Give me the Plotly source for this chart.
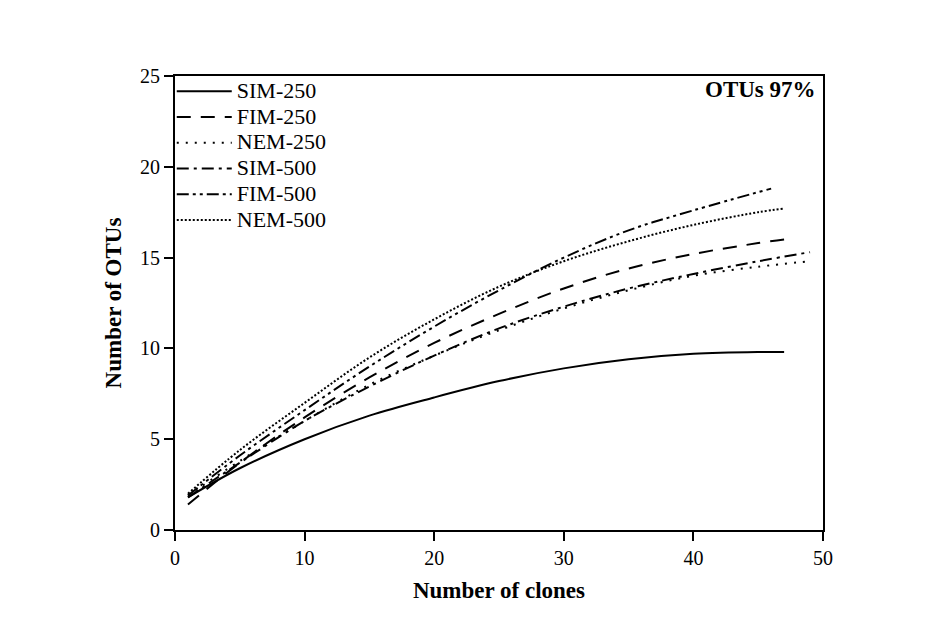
import plotly.graph_objects as go

names = ["SIM-250", "FIM-250", "NEM-250", "SIM-500", "FIM-500", "NEM-500"]
x_sim250 = [1, 5, 10, 15, 20, 25, 30, 35, 40, 45, 47]
y_sim250 = [1.8, 3.4, 5.0, 6.3, 7.3, 8.2, 8.9, 9.4, 9.7, 9.8, 9.8]
x_fim250 = [1, 5, 10, 15, 20, 25, 30, 35, 40, 45, 47]
y_fim250 = [1.4, 3.7, 6.2, 8.4, 10.3, 11.9, 13.3, 14.4, 15.2, 15.8, 16.0]
x_nem250 = [1, 5, 10, 15, 20, 25, 30, 35, 40, 45, 49]
y_nem250 = [1.9, 3.8, 6.0, 8.0, 9.6, 11.0, 12.2, 13.2, 14.0, 14.5, 14.8]
x_sim500 = [1, 5, 10, 15, 20, 25, 30, 35, 40, 45, 49]
y_sim500 = [1.8, 3.7, 6.0, 7.9, 9.6, 11.1, 12.3, 13.3, 14.1, 14.8, 15.3]
x_fim500 = [1, 5, 10, 15, 20, 25, 30, 35, 40, 46]
y_fim500 = [1.9, 4.1, 6.6, 9.0, 11.2, 13.2, 15.0, 16.5, 17.6, 18.8]
x_nem500 = [1, 5, 10, 15, 20, 25, 30, 35, 40, 45, 47]
y_nem500 = [2.0, 4.4, 7.0, 9.5, 11.6, 13.4, 14.8, 15.9, 16.8, 17.5, 17.7]
x_ticks = [0, 10, 20, 30, 40, 50]
y_ticks = [0, 5, 10, 15, 20, 25]

series = [
    (x_sim250, y_sim250, "solid"),
    (x_fim250, y_fim250, "14px,10px"),
    (x_nem250, y_nem250, "2px,7px"),
    (x_sim500, y_sim500, "12px,5px,3px,5px"),
    (x_fim500, y_fim500, "12px,4px,3px,4px,3px,4px"),
    (x_nem500, y_nem500, "2px,2px"),
]

fig = go.Figure()
for name, (xs, ys, dash) in zip(names, series):
    fig.add_trace(go.Scatter(x=xs, y=ys, name="<span style='font-size:22px'>" + name + "</span>",
                             mode="lines",
                             line=dict(color="black", width=2, dash=dash, shape="spline")))

font = "Liberation Serif, Times New Roman, serif"
fig.update_layout(
    width=940, height=628,
    margin=dict(l=175, r=117, t=76, b=98),
    paper_bgcolor="white", plot_bgcolor="white",
    font=dict(family=font, size=20, color="black"),
    showlegend=True,
    legend=dict(x=-0.005, y=1.006, xanchor="left", yanchor="top",
                bgcolor="rgba(0,0,0,0)", font=dict(size=17.5, family=font),
                itemwidth=55, tracegroupgap=0),
    xaxis=dict(range=[0, 50], tickvals=x_ticks, showgrid=False, zeroline=False,
               showline=True, linecolor="black", linewidth=2, mirror=True,
               ticks="outside", ticklen=9, tickwidth=2, tickcolor="black",
               tickfont=dict(size=20, family=font),
               title=dict(text="<b>Number of clones</b>", font=dict(size=23, family=font), standoff=14)),
    yaxis=dict(range=[0, 25], tickvals=y_ticks, showgrid=False, zeroline=False,
               showline=True, linecolor="black", linewidth=2, mirror=True,
               ticks="outside", ticklen=9, tickwidth=2, tickcolor="black",
               tickfont=dict(size=20, family=font),
               title=dict(text="<b>Number of OTUs</b>", font=dict(size=23, family=font), standoff=12)),
    annotations=[dict(text="<b>OTUs 97%</b>", x=0.992, y=1.003, xref="paper", yref="paper",
                      xanchor="right", yanchor="top", showarrow=False,
                      font=dict(size=23, family=font))],
)

fig.write_html("out.html")
